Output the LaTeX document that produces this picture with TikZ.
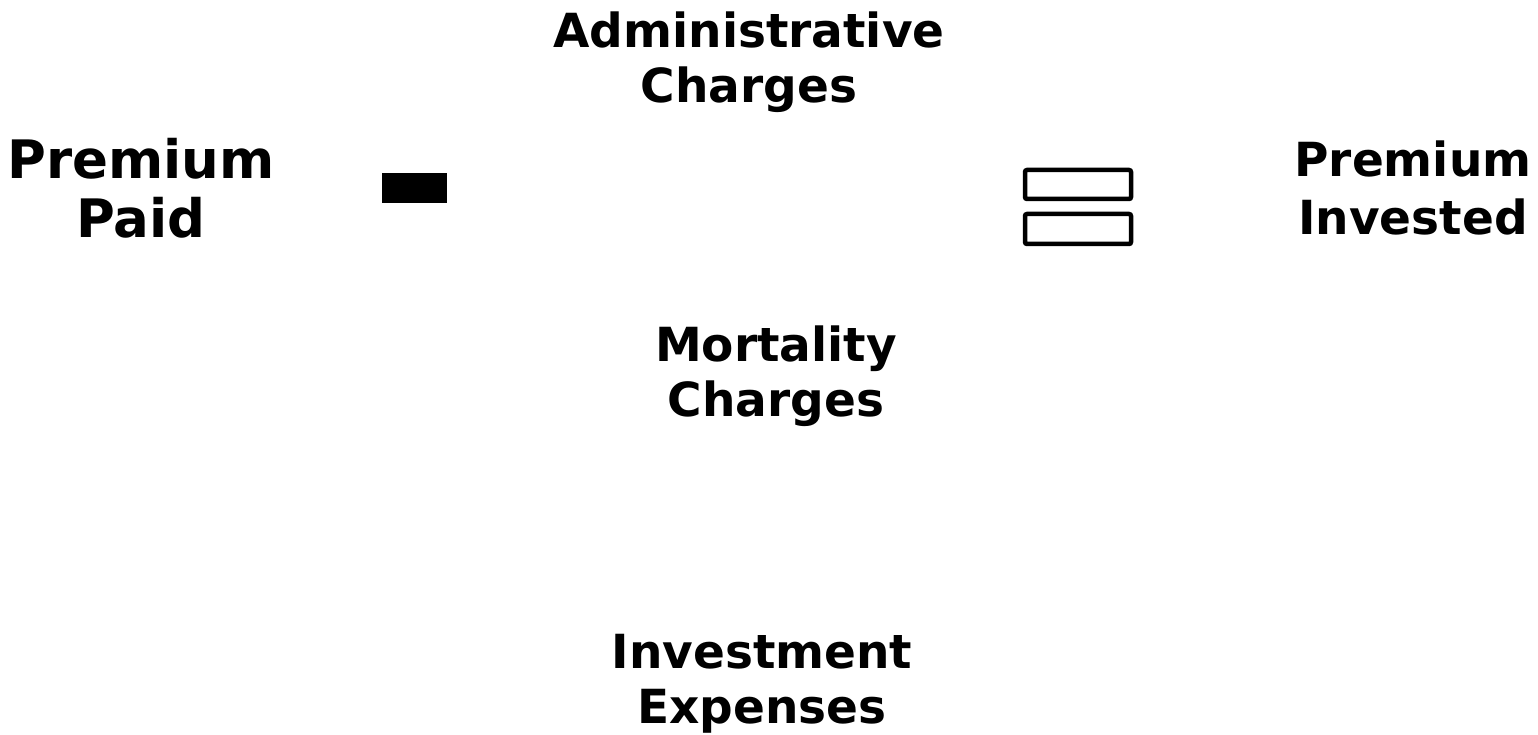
\documentclass[tikz,border=0pt]{standalone}
\usepackage{fontspec}
\setmainfont{DejaVu Sans}
\begin{document}
\begin{tikzpicture}[x=1pt,y=-1pt,
  lbl/.style={align=center,inner sep=0pt,font=\bfseries\fontsize{47}{55}\selectfont},
  biglbl/.style={align=center,inner sep=0pt,font=\bfseries\fontsize{53}{59}\selectfont},
  minusbar/.style={fill=black,draw=none},
  eqbar/.style={draw=black,line width=4.5pt,rounded corners=2pt,fill=white}]
\useasboundingbox (0,0) rectangle (1538,735);
\node[biglbl] (paid) at (141,188) {Premium\\Paid};
\node[lbl] (admin) at (749,62) {Administrative\\Charges};
\node[lbl,font=\bfseries\fontsize{47}{58}\selectfont] (invested) at (1413,188) {Premium\\Invested};
\node[lbl] (mort) at (776,376) {Mortality\\Charges};
\node[lbl] (inv) at (762,684) {Investment\\Expenses};
\path[minusbar] (382,173) rectangle (447,203);
\path[eqbar] (1025,170) rectangle (1131,199);
\path[eqbar] (1025,214) rectangle (1131,244);
\end{tikzpicture}
\end{document}
